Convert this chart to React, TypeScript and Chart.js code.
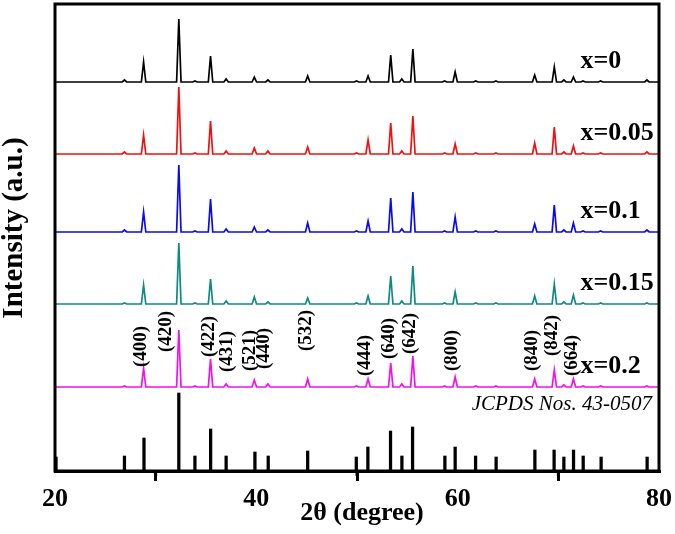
import React, { useEffect, useRef } from 'react';
import { Chart, registerables } from 'chart.js';

Chart.register(...registerables);

// ---- data ----
const PEAK_2THETA = [26.9, 28.8, 32.3, 33.9, 35.45, 37.0, 39.8, 41.15, 45.1, 49.95, 51.1, 53.35, 54.45, 55.55, 58.7, 59.75, 61.8, 63.8, 67.65, 69.6, 70.55, 71.5, 72.45, 74.2, 78.8];

const SAMPLE_LABELS = ['x=0', 'x=0.05', 'x=0.1', 'x=0.15', 'x=0.2'];
const SAMPLE_BASELINES = [389, 317, 239, 167, 84];
const HEIGHTS_X0 = [2, 20, 63, 1, 26, 3, 5, 2, 6, 1, 6, 27, 3, 33, 1, 10, 1, 1, 7, 15, 2, 5, 1, 1, 2];
const HEIGHTS_X005 = [2, 19, 67, 1, 33, 3, 6, 3, 7, 1, 14, 31, 3, 38, 1, 10, 1, 1, 11, 27, 2, 8, 1, 1, 2];
const HEIGHTS_X01 = [2, 20, 67, 1, 33, 3, 5, 2, 9, 1, 11, 34, 3, 40, 1, 15, 1, 1, 8, 27, 2, 9, 1, 1, 2];
const HEIGHTS_X015 = [1, 19, 61, 1, 25, 3, 7, 2, 6, 1, 8, 28, 3, 38, 1, 12, 1, 1, 8, 20, 2, 9, 1, 1, 1];
const HEIGHTS_X02 = [1, 19, 57, 1, 28, 3, 7, 3, 8, 1, 8, 24, 3, 31, 1, 10, 1, 1, 8, 17, 2, 8, 1, 1, 1];
const SAMPLE_HEIGHTS = [HEIGHTS_X0, HEIGHTS_X005, HEIGHTS_X01, HEIGHTS_X015, HEIGHTS_X02];

const JCPDS_2THETA = [20.1, 26.9, 28.84, 32.3, 33.9, 35.46, 37.0, 39.86, 41.18, 45.1, 49.93, 51.08, 53.33, 54.46, 55.52, 58.73, 59.75, 61.78, 63.82, 67.67, 69.58, 70.55, 71.51, 72.47, 74.25, 78.82];
const JCPDS_INTENSITY = [14, 15, 33, 78, 15, 42, 15, 19, 15, 20, 14, 24, 40, 15, 44, 15, 24, 15, 14, 21, 21, 14, 21, 15, 14, 14];
const JCPDS_LABEL = 'JCPDS Nos. 43-0507';

const HKL_LABELS = ['(400)', '(420)', '(422)', '(431)', '(521)', '(440)', '(532)', '(444)', '(640)', '(642)', '(800)', '(840)', '(842)', '(664)'];
const HKL_2THETA = [28.6, 31.0, 35.3, 37.1, 39.4, 40.75, 44.95, 50.8, 53.2, 55.3, 59.45, 67.4, 69.4, 71.35];
const HKL_BASE = [104, 119, 114, 99, 100, 102, 120, 95, 112, 117, 100, 100, 115, 95];

const X_TICKS = [20, 40, 60, 80];
const X_MINOR_TICKS = [30, 50, 70];

// ---- style ----
const COLORS = ['#000000', '#f01010', '#0a0af0', '#0e8a82', '#f010f0'];
const SERIF = '"Liberation Serif", "DejaVu Serif", serif';
const PEAK_HALF_WIDTH = 0.22;

function buildSeries(base: number, heights: number[]) {
  const pts: { x: number; y: number }[] = [{ x: 20, y: base }];
  PEAK_2THETA.forEach((p, i) => {
    pts.push({ x: p - PEAK_HALF_WIDTH, y: base });
    pts.push({ x: p, y: base + heights[i] });
    pts.push({ x: p + PEAK_HALF_WIDTH, y: base });
  });
  pts.push({ x: 80, y: base });
  return pts;
}

const annotate = {
  id: 'annotate',
  afterDatasetsDraw(chart: any) {
    const { ctx, chartArea: a, scales } = chart;
    const x = scales.x;
    const y = scales.y;
    ctx.save();
    ctx.fillStyle = '#000';

    // hkl labels
    ctx.font = `bold 19px ${SERIF}`;
    ctx.textAlign = 'left';
    ctx.textBaseline = 'middle';
    HKL_LABELS.forEach((t, i) => {
      ctx.save();
      ctx.translate(x.getPixelForValue(HKL_2THETA[i]), y.getPixelForValue(HKL_BASE[i]));
      ctx.rotate(-Math.PI / 2);
      ctx.fillText(t, 0, 0);
      ctx.restore();
    });

    // sample labels
    ctx.font = `bold 26px ${SERIF}`;
    ctx.textAlign = 'left';
    SAMPLE_LABELS.forEach((t, i) => {
      ctx.fillText(t, x.getPixelForValue(72.2), y.getPixelForValue(SAMPLE_BASELINES[i] + 21));
    });

    // JCPDS label
    ctx.font = `italic 21px ${SERIF}`;
    ctx.textAlign = 'right';
    ctx.fillText(JCPDS_LABEL, x.getPixelForValue(79.3), y.getPixelForValue(67));

    // axis titles
    ctx.font = `bold 26px ${SERIF}`;
    ctx.textAlign = 'center';
    ctx.fillText('2θ (degree)', (a.left + a.right) / 2 + 5, a.bottom + 42);
    ctx.font = `bold 29px ${SERIF}`;
    ctx.save();
    ctx.translate(15, 228);
    ctx.rotate(-Math.PI / 2);
    ctx.fillText('Intensity (a.u.)', 0, 0);
    ctx.restore();

    ctx.restore();
  },
  afterDraw(chart: any) {
    const { ctx, chartArea: a, scales } = chart;
    ctx.save();
    ctx.strokeStyle = '#000';
    ctx.lineWidth = 3;
    ctx.strokeRect(a.left, a.top, a.right - a.left, a.bottom - a.top);
    X_MINOR_TICKS.forEach((v) => {
      const px = scales.x.getPixelForValue(v);
      ctx.beginPath();
      ctx.moveTo(px, a.bottom);
      ctx.lineTo(px, a.bottom + 5);
      ctx.stroke();
    });
    ctx.restore();
  },
};

export default function App() {
  const ref = useRef<HTMLCanvasElement | null>(null);
  useEffect(() => {
    if (!ref.current) return;
    const lineSets = SAMPLE_LABELS.map((label, i) => ({
      type: 'line' as const,
      label,
      data: buildSeries(SAMPLE_BASELINES[i], SAMPLE_HEIGHTS[i]),
      borderColor: COLORS[i],
      borderWidth: 1.7,
      pointRadius: 0,
      tension: 0,
      fill: false,
    }));
    const chart = new Chart(ref.current, {
      type: 'line',
      data: {
        datasets: [
          ...lineSets,
          {
            type: 'bar' as const,
            label: 'JCPDS',
            data: JCPDS_2THETA.map((v, i) => ({ x: v, y: JCPDS_INTENSITY[i] })),
            backgroundColor: '#000',
            barThickness: 2.6,
            grouped: false,
          } as any,
        ],
      },
      options: {
        animation: false,
        responsive: true,
        maintainAspectRatio: false,
        parsing: false as any,
        normalized: true,
        layout: { padding: { left: 55, right: 15, top: 4, bottom: 0 } },
        plugins: { legend: { display: false }, tooltip: { enabled: false } },
        scales: {
          x: {
            type: 'linear',
            min: 20,
            max: 80,
            offset: false,
            afterBuildTicks: (s: any) => {
              s.ticks = [...X_TICKS].map((v) => ({ value: v }));
            },
            afterFit: (s: any) => {
              s.height = 63;
            },
            ticks: {
              autoSkip: false,
              maxRotation: 0,
              padding: 3,
              color: '#000',
              font: { family: SERIF, size: 26, weight: 'bold' },
            },
            grid: {
              display: true,
              drawOnChartArea: false,
              drawTicks: true,
              tickLength: 10,
              color: '#000',
              lineWidth: 3,
            },
            border: { display: true, color: '#000', width: 3 },
          },
          y: {
            type: 'linear',
            min: 0,
            max: 467,
            display: false,
          },
        },
      } as any,
      plugins: [annotate],
    });
    return () => chart.destroy();
  }, []);
  return (
    <div style={{ position: 'absolute', left: 0, top: 0, width: 675, height: 534, background: '#fff' }}>
      <canvas ref={ref} />
    </div>
  );
}
